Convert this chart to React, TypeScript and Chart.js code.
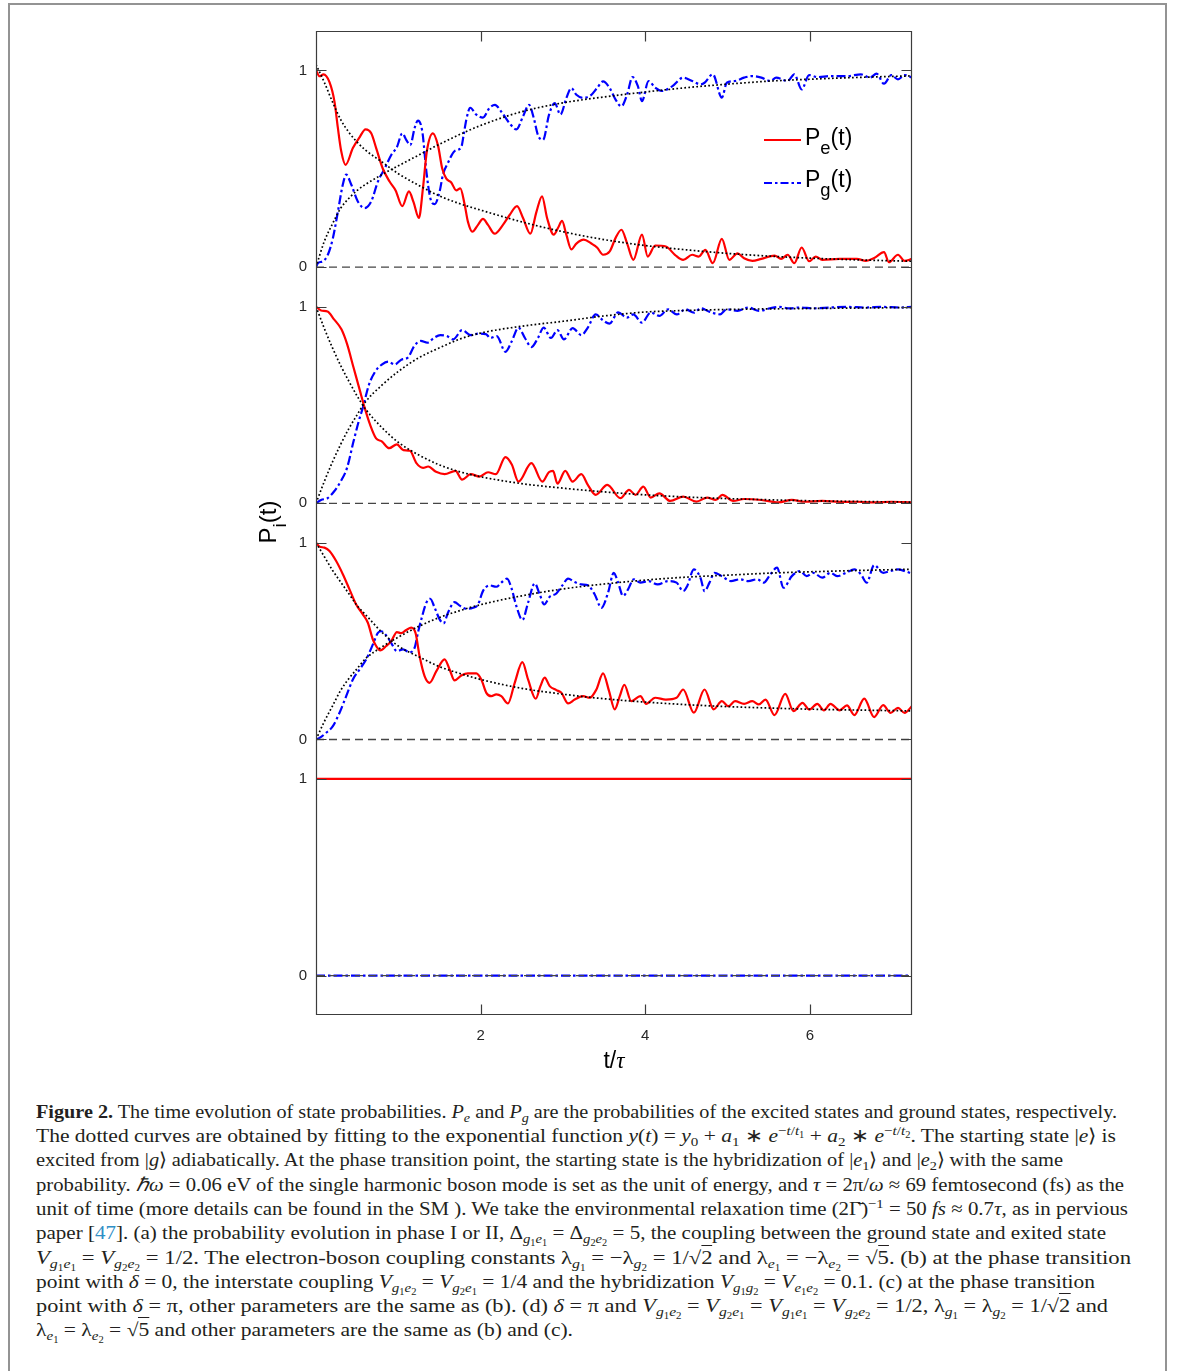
import React, { useEffect, useLayoutEffect, useRef } from 'react';
import { Chart, registerables } from 'chart.js';

Chart.register(...registerables);

// ---------- axis values ----------
const tMax = 7.24;
const xTickValues = [2, 4, 6];
const yTickValues = [0, 1];

// ---------- fitted (dotted) curves, sampled times ----------
const fitT = [0, 0.1, 0.2, 0.3, 0.4, 0.5, 0.6, 0.8, 1.0, 1.25, 1.5, 1.75, 2.0, 2.5, 3.0, 3.5, 4.0, 4.5, 5.0, 5.5, 6.0, 6.5, 7.24];

// ---------- panel (a) ----------
const aPeT = [0, 0.043, 0.091, 0.164, 0.225, 0.265, 0.306, 0.359, 0.448, 0.529, 0.602, 0.671, 0.731, 0.812, 0.894, 0.967, 1.048, 1.129, 1.185, 1.25, 1.299, 1.347, 1.42, 1.481, 1.534, 1.583, 1.643, 1.704, 1.753, 1.805, 1.846, 1.899, 1.968, 2.028, 2.089, 2.17, 2.271, 2.352, 2.442, 2.515, 2.604, 2.677, 2.746, 2.807, 2.888, 2.941, 2.989, 3.041, 3.102, 3.163, 3.252, 3.345, 3.414, 3.487, 3.568, 3.641, 3.71, 3.78, 3.855, 3.96, 4.03, 4.12, 4.25, 4.36, 4.46, 4.57, 4.65, 4.73, 4.82, 4.93, 5.02, 5.12, 5.2, 5.3, 5.41, 5.57, 5.65, 5.73, 5.81, 5.9, 5.99, 6.07, 6.15, 6.36, 6.57, 6.68, 6.78, 6.9, 6.96, 7.07, 7.15, 7.24];
const aPeV = [1.0, 0.97, 0.98, 0.94, 0.84, 0.71, 0.59, 0.52, 0.605, 0.66, 0.70, 0.68, 0.605, 0.50, 0.435, 0.39, 0.31, 0.385, 0.33, 0.25, 0.40, 0.59, 0.68, 0.62, 0.50, 0.45, 0.43, 0.39, 0.40, 0.32, 0.23, 0.18, 0.215, 0.245, 0.215, 0.17, 0.215, 0.265, 0.31, 0.25, 0.17, 0.28, 0.36, 0.25, 0.165, 0.20, 0.235, 0.165, 0.09, 0.12, 0.14, 0.12, 0.10, 0.063, 0.08, 0.15, 0.19, 0.12, 0.037, 0.165, 0.054, 0.11, 0.105, 0.063, 0.037, 0.063, 0.054, 0.088, 0.02, 0.144, 0.037, 0.07, 0.045, 0.032, 0.042, 0.059, 0.042, 0.063, 0.02, 0.10, 0.03, 0.054, 0.037, 0.042, 0.042, 0.032, 0.046, 0.076, 0.025, 0.063, 0.032, 0.042];
const aPgT = [0, 0.022, 0.083, 0.144, 0.205, 0.265, 0.326, 0.367, 0.428, 0.508, 0.59, 0.671, 0.752, 0.833, 0.914, 0.983, 1.048, 1.096, 1.145, 1.198, 1.238, 1.291, 1.341, 1.389, 1.441, 1.502, 1.542, 1.603, 1.684, 1.765, 1.793, 1.826, 1.874, 1.947, 2.028, 2.109, 2.174, 2.251, 2.353, 2.434, 2.515, 2.588, 2.644, 2.697, 2.758, 2.831, 2.9, 2.969, 3.042, 3.102, 3.163, 3.244, 3.345, 3.414, 3.487, 3.568, 3.641, 3.71, 3.78, 3.845, 3.91, 3.96, 4.04, 4.12, 4.2, 4.33, 4.46, 4.57, 4.67, 4.72, 4.82, 4.93, 4.99, 5.09, 5.2, 5.3, 5.41, 5.52, 5.59, 5.73, 5.81, 5.9, 5.99, 6.09, 6.25, 6.46, 6.62, 6.73, 6.81, 6.9, 6.99, 7.07, 7.15, 7.24];
const aPgV = [0, 0.02, 0.03, 0.063, 0.147, 0.28, 0.42, 0.47, 0.42, 0.334, 0.30, 0.334, 0.435, 0.50, 0.57, 0.61, 0.68, 0.647, 0.62, 0.707, 0.745, 0.69, 0.486, 0.35, 0.32, 0.385, 0.47, 0.53, 0.59, 0.61, 0.67, 0.75, 0.81, 0.775, 0.76, 0.81, 0.825, 0.79, 0.73, 0.70, 0.766, 0.825, 0.76, 0.67, 0.647, 0.775, 0.834, 0.775, 0.86, 0.91, 0.876, 0.86, 0.876, 0.91, 0.944, 0.91, 0.85, 0.817, 0.878, 0.966, 0.92, 0.844, 0.946, 0.912, 0.895, 0.92, 0.963, 0.946, 0.929, 0.937, 0.98, 0.861, 0.937, 0.946, 0.963, 0.971, 0.963, 0.946, 0.963, 0.946, 0.98, 0.903, 0.976, 0.966, 0.971, 0.971, 0.98, 0.963, 0.983, 0.932, 0.976, 0.954, 0.976, 0.963];
const aPeFit = [1.03, 0.94, 0.84, 0.75, 0.685, 0.635, 0.595, 0.535, 0.475, 0.415, 0.362, 0.322, 0.29, 0.23, 0.18, 0.14, 0.11, 0.088, 0.07, 0.056, 0.046, 0.038, 0.03];
const aPgFit = [0, 0.13, 0.22, 0.30, 0.35, 0.39, 0.42, 0.47, 0.515, 0.57, 0.625, 0.675, 0.72, 0.79, 0.835, 0.865, 0.89, 0.912, 0.93, 0.945, 0.955, 0.963, 0.972];

// ---------- panel (b) ----------
const bPeT = [0, 0.061, 0.14, 0.219, 0.309, 0.377, 0.456, 0.535, 0.588, 0.657, 0.73, 0.799, 0.888, 0.983, 1.062, 1.141, 1.22, 1.3, 1.363, 1.458, 1.563, 1.695, 1.774, 1.88, 1.985, 2.09, 2.185, 2.301, 2.38, 2.459, 2.617, 2.749, 2.828, 2.88, 2.933, 3.028, 3.117, 3.223, 3.302, 3.397, 3.539, 3.697, 3.803, 3.881, 3.976, 4.066, 4.171, 4.303, 4.461, 4.62, 4.751, 4.857, 4.936, 5.068, 5.2, 5.411, 5.621, 5.78, 5.938, 6.149, 6.36, 6.57, 6.781, 6.992, 7.24];
const bPeV = [1.0, 0.98, 0.975, 0.935, 0.884, 0.81, 0.69, 0.57, 0.49, 0.40, 0.33, 0.315, 0.28, 0.30, 0.27, 0.267, 0.204, 0.18, 0.187, 0.16, 0.148, 0.165, 0.12, 0.148, 0.136, 0.158, 0.148, 0.235, 0.196, 0.11, 0.204, 0.11, 0.158, 0.165, 0.10, 0.165, 0.11, 0.148, 0.094, 0.043, 0.094, 0.026, 0.068, 0.043, 0.085, 0.029, 0.051, 0.012, 0.034, 0.0085, 0.029, 0.017, 0.043, 0.012, 0.022, 0.017, 0.005, 0.017, 0.008, 0.012, 0.007, 0.008, 0.005, 0.008, 0.005];
const bPgT = [0, 0.061, 0.14, 0.219, 0.298, 0.377, 0.456, 0.519, 0.572, 0.641, 0.72, 0.799, 0.878, 0.957, 1.036, 1.115, 1.194, 1.273, 1.352, 1.431, 1.51, 1.589, 1.668, 1.774, 1.88, 1.975, 2.064, 2.117, 2.196, 2.301, 2.38, 2.459, 2.538, 2.617, 2.696, 2.765, 2.854, 2.933, 3.012, 3.117, 3.223, 3.302, 3.397, 3.486, 3.565, 3.671, 3.776, 3.855, 3.96, 4.066, 4.171, 4.277, 4.382, 4.487, 4.593, 4.672, 4.777, 4.909, 4.988, 5.12, 5.252, 5.383, 5.515, 5.62, 5.752, 5.884, 6.042, 6.253, 6.464, 6.675, 6.886, 7.096, 7.24];
const bPgV = [0, 0.017, 0.026, 0.06, 0.11, 0.18, 0.315, 0.417, 0.49, 0.60, 0.67, 0.705, 0.72, 0.705, 0.73, 0.74, 0.80, 0.825, 0.816, 0.84, 0.855, 0.85, 0.833, 0.88, 0.855, 0.862, 0.86, 0.84, 0.85, 0.77, 0.825, 0.893, 0.84, 0.794, 0.84, 0.893, 0.84, 0.88, 0.833, 0.89, 0.855, 0.893, 0.96, 0.93, 0.913, 0.97, 0.944, 0.96, 0.918, 0.97, 0.952, 0.986, 0.96, 0.986, 0.969, 0.991, 0.974, 0.96, 0.986, 0.978, 0.995, 0.978, 0.991, 0.998, 0.991, 0.995, 0.991, 0.995, 0.998, 0.995, 0.998, 0.995, 0.998];
const bPeFit = [1.0, 0.89, 0.79, 0.70, 0.62, 0.545, 0.48, 0.385, 0.31, 0.245, 0.195, 0.16, 0.135, 0.10, 0.077, 0.058, 0.043, 0.032, 0.024, 0.018, 0.013, 0.01, 0.006];
const bPgFit = [0, 0.11, 0.21, 0.30, 0.38, 0.45, 0.515, 0.60, 0.67, 0.74, 0.79, 0.835, 0.865, 0.90, 0.925, 0.952, 0.972, 0.98, 0.985, 0.988, 0.99, 0.992, 0.995];

// ---------- panel (c) ----------
const cPeT = [0, 0.043, 0.103, 0.164, 0.245, 0.326, 0.407, 0.488, 0.569, 0.63, 0.691, 0.731, 0.78, 0.853, 0.914, 0.983, 1.035, 1.096, 1.157, 1.21, 1.258, 1.319, 1.38, 1.462, 1.562, 1.623, 1.684, 1.765, 1.846, 1.947, 2.008, 2.069, 2.13, 2.19, 2.251, 2.332, 2.414, 2.507, 2.576, 2.669, 2.726, 2.778, 2.839, 2.92, 2.981, 3.062, 3.143, 3.244, 3.325, 3.406, 3.487, 3.56, 3.629, 3.69, 3.745, 3.83, 3.94, 4.01, 4.12, 4.25, 4.38, 4.46, 4.59, 4.72, 4.83, 4.93, 5.01, 5.09, 5.2, 5.3, 5.38, 5.46, 5.57, 5.7, 5.8, 5.91, 5.99, 6.09, 6.17, 6.25, 6.36, 6.45, 6.54, 6.66, 6.78, 6.89, 6.98, 7.07, 7.15, 7.24];
const cPeV = [1.0, 0.98, 0.975, 0.958, 0.907, 0.84, 0.763, 0.686, 0.636, 0.593, 0.508, 0.475, 0.453, 0.475, 0.50, 0.546, 0.54, 0.556, 0.568, 0.54, 0.424, 0.322, 0.288, 0.347, 0.407, 0.356, 0.30, 0.325, 0.336, 0.336, 0.305, 0.237, 0.22, 0.229, 0.22, 0.183, 0.288, 0.393, 0.305, 0.207, 0.271, 0.314, 0.271, 0.251, 0.237, 0.183, 0.203, 0.22, 0.212, 0.254, 0.336, 0.246, 0.153, 0.22, 0.278, 0.195, 0.22, 0.181, 0.212, 0.203, 0.212, 0.254, 0.136, 0.254, 0.153, 0.195, 0.169, 0.195, 0.181, 0.195, 0.178, 0.203, 0.124, 0.232, 0.144, 0.186, 0.152, 0.181, 0.148, 0.181, 0.148, 0.173, 0.124, 0.208, 0.114, 0.175, 0.135, 0.161, 0.135, 0.17];
const cPgT = [0, 0.043, 0.124, 0.205, 0.286, 0.367, 0.448, 0.529, 0.61, 0.691, 0.752, 0.792, 0.853, 0.914, 0.983, 1.056, 1.137, 1.198, 1.238, 1.279, 1.34, 1.388, 1.441, 1.502, 1.55, 1.603, 1.684, 1.745, 1.826, 1.907, 1.968, 2.028, 2.109, 2.19, 2.251, 2.32, 2.373, 2.434, 2.507, 2.576, 2.657, 2.718, 2.771, 2.839, 2.92, 2.993, 3.062, 3.143, 3.224, 3.305, 3.386, 3.467, 3.548, 3.617, 3.67, 3.731, 3.791, 3.86, 3.94, 4.04, 4.15, 4.28, 4.38, 4.46, 4.51, 4.59, 4.67, 4.72, 4.78, 4.84, 4.93, 5.04, 5.15, 5.25, 5.36, 5.44, 5.52, 5.6, 5.68, 5.78, 5.88, 5.96, 6.04, 6.15, 6.25, 6.33, 6.44, 6.54, 6.62, 6.69, 6.78, 6.89, 6.98, 7.07, 7.15, 7.24];
const cPgV = [0, 0.008, 0.034, 0.068, 0.136, 0.22, 0.305, 0.356, 0.407, 0.483, 0.542, 0.55, 0.529, 0.49, 0.449, 0.458, 0.444, 0.466, 0.542, 0.61, 0.695, 0.715, 0.67, 0.61, 0.59, 0.644, 0.698, 0.68, 0.664, 0.669, 0.686, 0.754, 0.783, 0.776, 0.797, 0.817, 0.771, 0.678, 0.607, 0.695, 0.793, 0.737, 0.686, 0.725, 0.742, 0.783, 0.817, 0.80, 0.788, 0.783, 0.737, 0.669, 0.746, 0.847, 0.797, 0.729, 0.763, 0.814, 0.797, 0.805, 0.788, 0.805, 0.797, 0.754, 0.78, 0.864, 0.822, 0.754, 0.797, 0.847, 0.83, 0.805, 0.814, 0.805, 0.814, 0.797, 0.839, 0.873, 0.771, 0.83, 0.856, 0.83, 0.847, 0.822, 0.847, 0.83, 0.847, 0.864, 0.839, 0.797, 0.886, 0.847, 0.856, 0.864, 0.856, 0.842];
const cPeFit = [1.0, 0.93, 0.86, 0.80, 0.74, 0.68, 0.635, 0.545, 0.475, 0.42, 0.37, 0.335, 0.305, 0.26, 0.23, 0.207, 0.19, 0.177, 0.167, 0.16, 0.154, 0.15, 0.145];
const cPgFit = [0, 0.09, 0.17, 0.25, 0.31, 0.36, 0.41, 0.47, 0.52, 0.575, 0.62, 0.655, 0.685, 0.73, 0.765, 0.79, 0.81, 0.825, 0.835, 0.845, 0.852, 0.858, 0.865];

// ---------- panel (d) ----------
const dPeT = [0, 7.24];
const dPeV = [1, 1];
const dPgT = [0, 7.24];
const dPgV = [0, 0];

// zero reference line
const zeroT = [0, 7.24];
const zeroV = [0, 0];

const pts = (t: number[], v: number[]) => t.map((x, i) => ({ x, y: v[i] }));

const RED = '#ff0000';
const BLUE = '#0000ff';
const AXIS = '#3c3c3c';
const SANS = '"Liberation Sans", Arial, Helvetica, sans-serif';
const SERIF = '"Liberation Serif", "Times New Roman", serif';

type Panel = {
  id: string;
  min: number;
  max: number;
  stackWeight: number;
  weight: number;
  pe: { x: number; y: number }[];
  pg: { x: number; y: number }[];
  peFit?: { x: number; y: number }[];
  pgFit?: { x: number; y: number }[];
};

const panels: Panel[] = [
  { id: 'ya', min: -0.1, max: 1.2, stackWeight: 1.3, weight: 4, pe: pts(aPeT, aPeV), pg: pts(aPgT, aPgV), peFit: pts(fitT, aPeFit), pgFit: pts(fitT, aPgFit) },
  { id: 'yb', min: -0.1, max: 1.1, stackWeight: 1.2, weight: 3, pe: pts(bPeT, bPeV), pg: pts(bPgT, bPgV), peFit: pts(fitT, bPeFit), pgFit: pts(fitT, bPgFit) },
  { id: 'yc', min: -0.1, max: 1.1, stackWeight: 1.2, weight: 2, pe: pts(cPeT, cPeV), pg: pts(cPgT, cPgV), peFit: pts(fitT, cPeFit), pgFit: pts(fitT, cPgFit) },
  { id: 'yd', min: -0.2, max: 1.1, stackWeight: 1.3, weight: 1, pe: pts(dPeT, dPeV), pg: pts(dPgT, dPgV) },
];

const framePlugin = {
  id: 'frame',
  afterDraw(chart: any) {
    const { ctx, chartArea } = chart;
    const L = Math.round(chartArea.left) + 0.5;
    const R = Math.round(chartArea.right) - 0.5;
    const T = Math.round(chartArea.top) + 0.5;
    const B = Math.round(chartArea.bottom) - 0.5;
    ctx.save();
    ctx.strokeStyle = AXIS;
    ctx.lineWidth = 1.2;
    ctx.setLineDash([]);
    ctx.beginPath();
    ctx.moveTo(L, T); ctx.lineTo(R, T); ctx.lineTo(R, B); ctx.lineTo(L, B); ctx.closePath();
    ctx.stroke();
    const tick = 10;
    ctx.beginPath();
    for (const p of panels) {
      const s = chart.scales[p.id];
      for (const v of yTickValues) {
        const y = Math.round(s.getPixelForValue(v)) + 0.5;
        ctx.moveTo(L, y); ctx.lineTo(L + tick, y);
        ctx.moveTo(R, y); ctx.lineTo(R - tick, y);
      }
    }
    const sx = chart.scales.x;
    for (const v of xTickValues) {
      const x = Math.round(sx.getPixelForValue(v)) + 0.5;
      ctx.moveTo(x, T); ctx.lineTo(x, T + tick);
      ctx.moveTo(x, B); ctx.lineTo(x, B - tick);
    }
    ctx.stroke();
    ctx.restore();
  },
};

const noPad = (s: any) => {
  s.paddingTop = 0;
  s.paddingBottom = 0;
  s.paddingLeft = 0;
  s.paddingRight = 0;
};

function buildConfig(): any {
  const datasets: any[] = [];
  const scales: any = {
    x: {
      type: 'linear',
      position: 'bottom',
      min: 0,
      max: tMax,
      grid: { display: false, drawTicks: false },
      border: { display: false },
      ticks: { padding: 12, color: '#262626', font: { family: SANS, size: 15 }, maxRotation: 0 },
      afterBuildTicks: (s: any) => { s.ticks = xTickValues.map((value) => ({ value })); },
      afterFit: (s: any) => { s.height = 52; noPad(s); },
    },
  };
  for (const p of panels) {
    scales[p.id] = {
      type: 'linear',
      position: 'left',
      stack: 'panels',
      stackWeight: p.stackWeight,
      weight: p.weight,
      min: p.min,
      max: p.max,
      grid: { display: false, drawTicks: false },
      border: { display: false },
      ticks: { padding: 9, color: '#262626', font: { family: SANS, size: 15 }, autoSkip: false },
      afterBuildTicks: (s: any) => { s.ticks = yTickValues.map((value) => ({ value })); },
      afterFit: (s: any) => { s.width = 56; noPad(s); },
    };
    datasets.push({
      data: pts(zeroT, zeroV), yAxisID: p.id, borderColor: '#454545', borderWidth: 1.3,
      borderDash: [8, 5], pointRadius: 0, order: 0,
    });
    if (p.peFit) {
      datasets.push({
        data: p.peFit, yAxisID: p.id, borderColor: '#000', borderWidth: 1.7, borderDash: [1.7, 2.3],
        pointRadius: 0, cubicInterpolationMode: 'monotone', order: 1,
      });
    }
    if (p.pgFit) {
      datasets.push({
        data: p.pgFit, yAxisID: p.id, borderColor: '#000', borderWidth: 1.7, borderDash: [1.7, 2.3],
        pointRadius: 0, cubicInterpolationMode: 'monotone', order: 1,
      });
    }
    datasets.push({
      data: p.pe, yAxisID: p.id, borderColor: RED, borderWidth: 2.2,
      pointRadius: 0, cubicInterpolationMode: 'monotone', order: 2,
    });
    datasets.push({
      data: p.pg, yAxisID: p.id, borderColor: BLUE, borderWidth: 2.2, borderDash: [9, 3, 2.5, 3],
      pointRadius: 0, cubicInterpolationMode: 'monotone', order: 3,
    });
  }
  return {
    type: 'line',
    data: { datasets },
    options: {
      animation: false,
      responsive: true,
      maintainAspectRatio: false,
      events: [],
      layout: { padding: { top: 10, right: 28, left: 0, bottom: 0 } },
      plugins: { legend: { display: false }, tooltip: { enabled: false } },
      scales,
    },
    plugins: [framePlugin],
  };
}

function PlotChart() {
  const ref = useRef<HTMLCanvasElement>(null);
  useEffect(() => {
    if (!ref.current) return;
    const chart = new Chart(ref.current, buildConfig());
    return () => chart.destroy();
  }, []);
  return (
    <div style={{ position: 'absolute', left: 260, top: 21, width: 680, height: 1046 }}>
      <canvas ref={ref} />
    </div>
  );
}

// ---------- caption helpers ----------
const CAPTION_LEFT = 36;
const Sb = ({ children }: any) => (
  <sub style={{ fontSize: '0.7em', lineHeight: 0, verticalAlign: '-0.3em' }}>{children}</sub>
);
const Sp = ({ children }: any) => (
  <sup style={{ fontSize: '0.7em', lineHeight: 0, verticalAlign: '0.55em' }}>{children}</sup>
);
const I = ({ children }: any) => <i>{children}</i>;
const Idx = (a: string, i: string, b: string, j: string) => (
  <Sb><I>{a}</I><Sb>{i}</Sb><I>{b}</I><Sb>{j}</Sb></Sb>
);
const Sq = ({ children }: any) => (
  <span>√<span style={{ borderTop: '1px solid currentColor', paddingTop: 1 }}>{children}</span></span>
);

function CaptionLine({ top, right, children }: any) {
  const ref = useRef<HTMLDivElement>(null);
  useLayoutEffect(() => {
    const el = ref.current;
    if (!el) return;
    el.style.transform = 'none';
    const w = el.getBoundingClientRect().width;
    if (w > 0) el.style.transform = `scaleX(${(right - CAPTION_LEFT) / w})`;
  }, [right]);
  return (
    <div
      ref={ref}
      style={{
        position: 'absolute', left: CAPTION_LEFT, top, whiteSpace: 'nowrap', transformOrigin: '0 0',
        lineHeight: '24px', height: 24, fontFamily: SERIF, fontSize: 19, color: '#231f20',
      }}
    >
      {children}
    </div>
  );
}

function Caption() {
  return (
    <>
      <CaptionLine top={1100} right={1117}>
        <b>Figure 2.</b> The time evolution of state probabilities. <I>P</I><Sb><I>e</I></Sb> and <I>P</I><Sb><I>g</I></Sb> are the probabilities of the excited states and ground states, respectively.
      </CaptionLine>
      <CaptionLine top={1124} right={1116}>
        The dotted curves are obtained by fitting to the exponential function <I>y</I>(<I>t</I>) = <I>y</I><Sb>0</Sb> + <I>a</I><Sb>1</Sb> ∗ <I>e</I><Sp>−<I>t</I>/<I>t</I><Sb>1</Sb></Sp> + <I>a</I><Sb>2</Sb> ∗ <I>e</I><Sp>−<I>t</I>/<I>t</I><Sb>2</Sb></Sp>. The starting state |<I>e</I>⟩ is
      </CaptionLine>
      <CaptionLine top={1148} right={1063}>
        excited from |<I>g</I>⟩ adiabatically. At the phase transition point, the starting state is the hybridization of |<I>e</I><Sb>1</Sb>⟩ and |<I>e</I><Sb>2</Sb>⟩ with the same
      </CaptionLine>
      <CaptionLine top={1173} right={1124}>
        probability. <I>ℏω</I> = 0.06 eV of the single harmonic boson mode is set as the unit of energy, and <I>τ</I> = 2π/<I>ω</I> ≈ 69 femtosecond (fs) as the
      </CaptionLine>
      <CaptionLine top={1197} right={1128}>
        unit of time (more details can be found in the SM ). We take the environmental relaxation time (2Γ̄)<Sp>−1</Sp> = 50 <I>fs</I> ≈ 0.7<I>τ</I>, as in pervious
      </CaptionLine>
      <CaptionLine top={1221} right={1106}>
        paper [<span style={{ color: '#2f8fc6' }}>47</span>]. (a) the probability evolution in phase I or II, Δ{Idx('g', '1', 'e', '1')} = Δ{Idx('g', '2', 'e', '2')} = 5, the coupling between the ground state and exited state
      </CaptionLine>
      <CaptionLine top={1246} right={1131}>
        <I>V</I>{Idx('g', '1', 'e', '1')} = <I>V</I>{Idx('g', '2', 'e', '2')} = 1/2. The electron-boson coupling constants λ<Sb><I>g</I><Sb>1</Sb></Sb> = −λ<Sb><I>g</I><Sb>2</Sb></Sb> = 1/<Sq>2</Sq> and λ<Sb><I>e</I><Sb>1</Sb></Sb> = −λ<Sb><I>e</I><Sb>2</Sb></Sb> = <Sq>5</Sq>. (b) at the phase transition
      </CaptionLine>
      <CaptionLine top={1270} right={1095}>
        point with <I>δ</I> = 0, the interstate coupling <I>V</I>{Idx('g', '1', 'e', '2')} = <I>V</I>{Idx('g', '2', 'e', '1')} = 1/4 and the hybridization <I>V</I>{Idx('g', '1', 'g', '2')} = <I>V</I>{Idx('e', '1', 'e', '2')} = 0.1. (c) at the phase transition
      </CaptionLine>
      <CaptionLine top={1294} right={1108}>
        point with <I>δ</I> = π, other parameters are the same as (b). (d) <I>δ</I> = π and <I>V</I>{Idx('g', '1', 'e', '2')} = <I>V</I>{Idx('g', '2', 'e', '1')} = <I>V</I>{Idx('g', '1', 'e', '1')} = <I>V</I>{Idx('g', '2', 'e', '2')} = 1/2, λ<Sb><I>g</I><Sb>1</Sb></Sb> = λ<Sb><I>g</I><Sb>2</Sb></Sb> = 1/<Sq>2</Sq> and
      </CaptionLine>
      <CaptionLine top={1318} right={573}>
        λ<Sb><I>e</I><Sb>1</Sb></Sb> = λ<Sb><I>e</I><Sb>2</Sb></Sb> = <Sq>5</Sq> and other parameters are the same as (b) and (c).
      </CaptionLine>
    </>
  );
}

const subStyle: React.CSSProperties = { fontSize: '0.8em', position: 'relative', top: '0.5em' };

function Legend() {
  return (
    <>
      <svg style={{ position: 'absolute', left: 764, top: 138 }} width={37} height={4}>
        <line x1={0} y1={2} x2={37} y2={2} stroke={RED} strokeWidth={2} />
      </svg>
      <div style={{ position: 'absolute', left: 805, top: 124, fontFamily: SANS, fontSize: 23, lineHeight: '26px', whiteSpace: 'nowrap' }}>
        P<span style={subStyle}>e</span>(t)
      </div>
      <svg style={{ position: 'absolute', left: 764, top: 181 }} width={37} height={4}>
        <line x1={0} y1={2} x2={37} y2={2} stroke={BLUE} strokeWidth={2} strokeDasharray="8 3 2.5 3" />
      </svg>
      <div style={{ position: 'absolute', left: 805, top: 166, fontFamily: SANS, fontSize: 23, lineHeight: '26px', whiteSpace: 'nowrap' }}>
        P<span style={subStyle}>g</span>(t)
      </div>
    </>
  );
}

export default function App() {
  return (
    <div style={{ position: 'absolute', left: 0, top: 0, width: 1182, height: 1371, overflow: 'hidden', background: '#fff' }}>
      <div style={{ position: 'absolute', left: 8, top: 3, width: 1155, height: 1420, borderLeft: '2px solid #939393', borderTop: '2px solid #939393', borderRight: '2px solid #939393' }} />
      <PlotChart />
      <Legend />
      <div style={{ position: 'absolute', left: 218, top: 508, width: 100, height: 28, lineHeight: '28px', textAlign: 'center', transform: 'rotate(-90deg)', fontFamily: SANS, fontSize: 24, whiteSpace: 'nowrap' }}>
        P<span style={subStyle}>i</span>(t)
      </div>
      <div style={{ position: 'absolute', left: 564, top: 1046, width: 100, height: 28, lineHeight: '28px', textAlign: 'center', fontFamily: SANS, fontSize: 23, whiteSpace: 'nowrap' }}>
        t/<span style={{ fontFamily: SERIF, fontStyle: 'italic' }}>τ</span>
      </div>
      <Caption />
    </div>
  );
}
